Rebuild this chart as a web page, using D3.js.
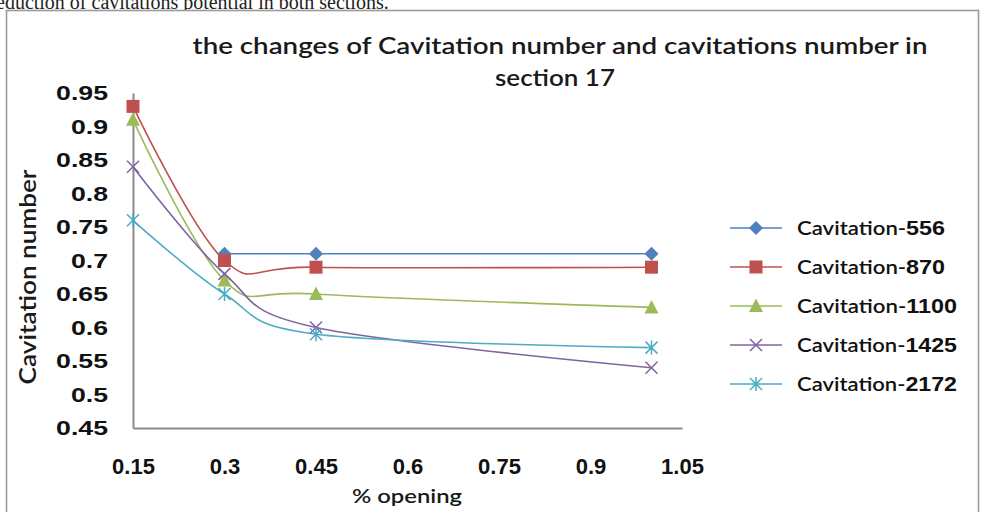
<!DOCTYPE html>
<html>
<head>
<meta charset="utf-8">
<script src="https://cdn.jsdelivr.net/npm/d3@7"></script>
<style>
  html, body { margin: 0; padding: 0; background: #fff; }
  svg { display: block; }
</style>
</head>
<body>
<svg id="chart" width="985" height="512"></svg>
<script>
// Gate opening positions (x values)
const openings = [0.15, 0.3, 0.45, 1.0];

// Cavitation number per series (null = no reading)
const cav556  = [null, 0.71, 0.71, 0.71];
const cav870  = [0.93, 0.70, 0.69, 0.69];
const cav1100 = [0.91, 0.67, 0.65, 0.63];
const cav1425 = [0.84, 0.68, 0.60, 0.54];
const cav2172 = [0.76, 0.65, 0.59, 0.57];

const seriesNames = ["Cavitation-556", "Cavitation-870", "Cavitation-1100", "Cavitation-1425", "Cavitation-2172"];
const seriesValues = [cav556, cav870, cav1100, cav1425, cav2172];

const xTicks = [0.15, 0.3, 0.45, 0.6, 0.75, 0.9, 1.05];
const yTicks = [0.45, 0.5, 0.55, 0.6, 0.65, 0.7, 0.75, 0.8, 0.85, 0.9, 0.95];

const colors = ["#4F81BD", "#C0504D", "#9BBB59", "#8064A2", "#4BACC6"];
const markers = ["diamond", "square", "triangle", "x", "asterisk"];

const svg = d3.select("#chart");

// Paragraph line running above the figure frame
svg.append("text")
  .attr("x", -4).attr("y", 9)
  .attr("font-family", "'Liberation Serif', 'DejaVu Serif', serif")
  .attr("font-size", 20)
  .attr("fill", "#222")
  .text("eduction of cavitations potential in both sections.");

// Chart frame
svg.append("rect")
  .attr("x", 6.5).attr("y", 10.5)
  .attr("width", 972).attr("height", 520)
  .attr("fill", "#fff")
  .attr("stroke", "#9a9a9a")
  .attr("stroke-width", 1.6);

const x = d3.scaleLinear().domain([0.15, 1.05]).range([133, 682]);
const y = d3.scaleLinear().domain([0.45, 0.95]).range([428, 93]);

// Y axis
const yAxis = svg.append("g")
  .attr("transform", `translate(${x(0.15)},0)`)
  .call(d3.axisLeft(y).tickValues(yTicks).tickSize(0).tickPadding(25)
    .tickFormat(d => d3.format("")(+d.toFixed(2))));
yAxis.select(".domain").attr("stroke", "#8c8c8c").attr("stroke-width", 2);
yAxis.selectAll("text")
  .attr("font-family", "'Liberation Sans', Arial, sans-serif")
  .attr("font-weight", "bold")
  .attr("font-size", 21)
  .attr("fill", "#111")
  .each(function() {
    const w = this.getComputedTextLength();
    d3.select(this).attr("textLength", w * 1.27).attr("lengthAdjust", "spacingAndGlyphs");
  });

// X axis
const xAxis = svg.append("g")
  .attr("transform", `translate(0,${y(0.45)})`)
  .call(d3.axisBottom(x).tickValues(xTicks).tickSize(0).tickPadding(30)
    .tickFormat(d => d3.format("")(+d.toFixed(2))));
xAxis.select(".domain").attr("stroke", "#8c8c8c").attr("stroke-width", 2);
xAxis.selectAll("text")
  .attr("font-family", "'Liberation Sans', Arial, sans-serif")
  .attr("font-weight", "bold")
  .attr("font-size", 22)
  .attr("fill", "#111");

// Title
const title = svg.append("g")
  .attr("font-family", "Lato, 'Open Sans', sans-serif")
  .attr("font-size", 23)
  .attr("fill", "#1a1a1a")
  .attr("font-weight", 600);
title.append("text").attr("x", 560).attr("y", 54).attr("text-anchor", "middle")
  .attr("textLength", 735).attr("lengthAdjust", "spacingAndGlyphs")
  .text("the changes of Cavitation number and cavitations number in");
title.append("text").attr("x", 555).attr("y", 86).attr("text-anchor", "middle")
  .attr("textLength", 120).attr("lengthAdjust", "spacingAndGlyphs")
  .text("section 17");

// Axis titles
svg.append("text")
  .attr("transform", "translate(36,277) rotate(-90)")
  .attr("text-anchor", "middle")
  .attr("font-family", "Lato, 'Open Sans', sans-serif")
  .attr("font-weight", 600)
  .attr("font-size", 22)
  .attr("fill", "#1a1a1a")
  .attr("textLength", 215).attr("lengthAdjust", "spacingAndGlyphs")
  .text("Cavitation number");

svg.append("text")
  .attr("x", 407).attr("y", 503)
  .attr("text-anchor", "middle")
  .attr("font-family", "Lato, 'Open Sans', sans-serif")
  .attr("font-weight", 600)
  .attr("font-size", 20)
  .attr("fill", "#1a1a1a")
  .attr("textLength", 110).attr("lengthAdjust", "spacingAndGlyphs")
  .text("% opening");

// Marker shapes
function drawMarker(g, kind, color) {
  if (kind === "diamond") {
    g.append("path").attr("d", "M0,-7L7,0L0,7L-7,0Z").attr("fill", color);
  } else if (kind === "square") {
    g.append("rect").attr("x", -6.5).attr("y", -6.5).attr("width", 13).attr("height", 13)
      .attr("fill", color);
  } else if (kind === "triangle") {
    g.append("path").attr("d", "M0,-7.5L7,6L-7,6Z").attr("fill", color);
  } else if (kind === "x") {
    g.append("path").attr("d", "M-6,-6L6,6M-6,6L6,-6")
      .attr("stroke", color).attr("stroke-width", 1.5).attr("fill", "none");
  } else if (kind === "asterisk") {
    g.append("path").attr("d", "M-6,-6L6,6M-6,6L6,-6M0,-7L0,7")
      .attr("stroke", color).attr("stroke-width", 1.5).attr("fill", "none");
  }
}

const line = d3.line()
  .defined(d => d.v !== null)
  .x(d => x(d.x))
  .y(d => y(d.v))
  .curve(d3.curveCardinal.tension(0));

const plot = svg.append("g");
seriesValues.forEach((vals, i) => {
  const pts = openings.map((o, j) => ({ x: o, v: vals[j] })).filter(d => d.v !== null);
  plot.append("path")
    .datum(pts)
    .attr("d", line)
    .attr("fill", "none")
    .attr("stroke", colors[i])
    .attr("stroke-width", 1.6);
});
seriesValues.forEach((vals, i) => {
  const pts = openings.map((o, j) => ({ x: o, v: vals[j] })).filter(d => d.v !== null);
  pts.forEach(d => {
    const g = plot.append("g").attr("transform", `translate(${x(d.x)},${y(d.v)})`);
    drawMarker(g, markers[i], colors[i]);
  });
});

// Legend
const legend = svg.append("g");
const legendWidths = [148, 148, 160, 160, 160];
seriesNames.forEach((name, i) => {
  const ly = 228 + i * 39;
  legend.append("line")
    .attr("x1", 730).attr("x2", 782).attr("y1", ly).attr("y2", ly)
    .attr("stroke", colors[i]).attr("stroke-width", 1.6);
  const g = legend.append("g").attr("transform", `translate(756,${ly})`);
  drawMarker(g, markers[i], colors[i]);
  const parts = name.split("-");
  const t = legend.append("text")
    .attr("x", 797).attr("y", ly + 7)
    .attr("font-size", 19)
    .attr("fill", "#111")
    .attr("textLength", legendWidths[i]).attr("lengthAdjust", "spacingAndGlyphs");
  t.append("tspan").attr("font-family", "Lato, 'Open Sans', sans-serif").attr("font-weight", 600)
    .text(parts[0] + "-");
  t.append("tspan").attr("font-family", "'Liberation Sans', Arial, sans-serif").attr("font-weight", "bold")
    .attr("font-size", 20)
    .text(parts[1]);
});
</script>
</body>
</html>
